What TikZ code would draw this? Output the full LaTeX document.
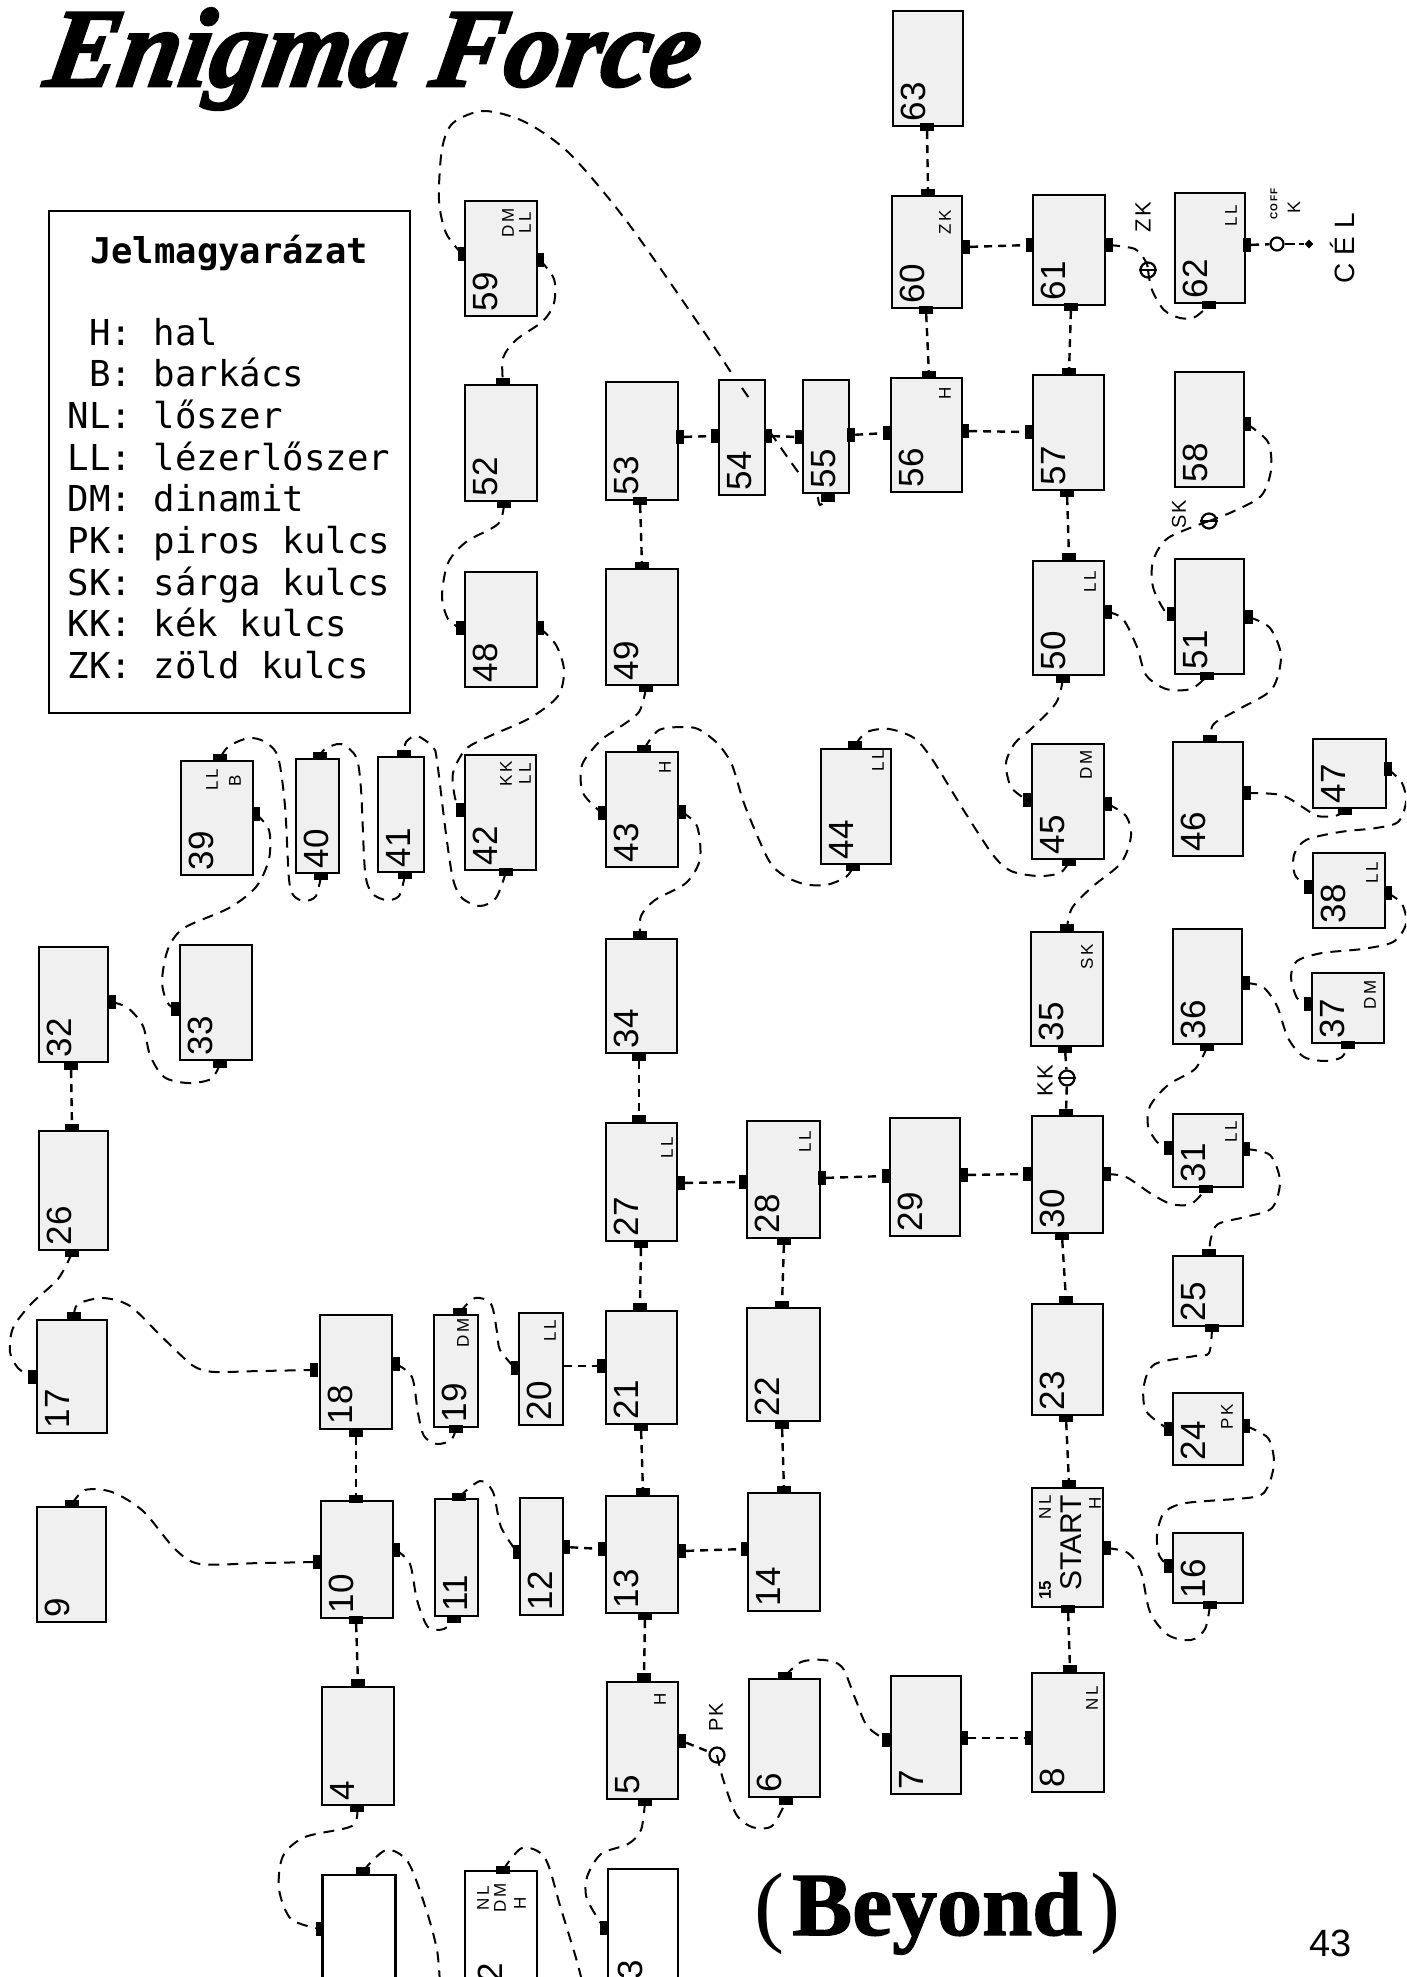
\documentclass[tikz,border=0pt]{standalone}
\usepackage{fontspec}
\usepackage{graphicx}
\usetikzlibrary{shapes.geometric}
\setmainfont{Liberation Sans}
\newfontfamily\legfont{DejaVu Sans Mono}
\newfontfamily\lblfont[LetterSpace=14]{Liberation Sans}
\newfontfamily\keyfont[LetterSpace=10]{Liberation Sans}
\newfontfamily\celfont[LetterSpace=28]{Liberation Sans}
\newfontfamily\beyfont[BoldFeatures={FakeBold=1.5}]{Liberation Serif}
\newfontfamily\titlefont[BoldItalicFeatures={FakeBold=2.5,FakeSlant=0.18}]{Liberation Serif}
\definecolor{roomgray}{HTML}{F0F0F0}
\tikzset{
  room/.style={draw=black,line width=2.6pt,fill=roomgray,rectangle,inner sep=0pt},
  openroom/.style={draw=black,line width=2.2pt,fill=white,rectangle,inner sep=0pt},
  vport/.style={fill=black,rectangle,inner sep=0pt,minimum width=8pt,minimum height=14pt},
  hport/.style={fill=black,rectangle,inner sep=0pt,minimum width=14pt,minimum height=8pt},
  num/.style={rotate=90,inner sep=0pt,font=\fontsize{35}{35}\selectfont},
  item/.style={rotate=90,inner sep=0pt,font=\lblfont\fontsize{17}{17}\selectfont},
  keylabel/.style={rotate=90,inner sep=0pt,font=\keyfont\fontsize{22}{22}\selectfont},
  wire/.style={draw=black,line width=2pt,dash pattern=on 11pt off 8pt},
  wirelink/.style={draw=black,line width=2.4pt,dash pattern=on 8pt off 6pt},
  keyring/.style={draw=black,circle,line width=2.2pt,minimum size=15pt,inner sep=0pt},
  keybar/.style={draw=black,line width=2pt},
  legline/.style={anchor=base west,inner sep=0pt,font=\legfont\fontsize{35.7}{35.7}\selectfont},
}
\begin{document}
\begin{tikzpicture}[x=1pt,y=-1pt]
\useasboundingbox (0,0) rectangle (1406,1977);
\clip (0,0) rectangle (1406,1977);
% title
\node[anchor=base west,inner sep=0pt] (title) at (42,86) {\scalebox{.975}[1]{\titlefont\fontsize{112}{112}\selectfont\bfseries\itshape Enigma Force}};
% legend
\node[draw=black,line width=2.6pt,rectangle,minimum width=361pt,minimum height=502pt,inner sep=0pt] (legend) at (229.5,462) {};
\node[legline,font=\legfont\bfseries\fontsize{35.5}{35.5}\selectfont] (legtitle) at (90,263) {Jelmagyarázat};
\foreach \i/\t in {0/{\phantom{N}H: hal},1/{\phantom{N}B: barkács},2/{NL: lőszer},3/{LL: lézerlőszer},4/{DM: dinamit},5/{PK: piros kulcs},6/{SK: sárga kulcs},7/{KK: kék kulcs},8/{ZK: zöld kulcs}}
  \node[legline] (leg\i) at (67.5,{345+41.7*\i}) {\t};
% rooms: name / x1 / y1 / x2 / y2
\foreach \n/\xa/\ya/\xb/\yb in {
 59/465/201/537/316, 52/465/385/537/501, 53/606/382/678/500, 48/465/572/537/687, 49/606/569/678/685,
 63/893/11/963/126, 60/892/196/962/308, 61/1033/195/1105/305, 62/1175/193/1245/303,
 54/719/380/765/495, 55/803/380/849/493, 56/891/378/962/492, 57/1033/375/1104/490, 58/1175/372/1244/487,
 50/1033/561/1104/675, 51/1175/559/1244/674,
 39/181/761/253/875, 40/296/759/339/873, 41/378/757/424/872, 42/465/755/536/870, 43/606/752/678/867,
 44/821/749/891/864, 45/1032/744/1104/859, 46/1173/742/1243/856, 47/1313/739/1386/808, 38/1313/853/1385/928,
 37/1312/973/1384/1043, 35/1031/932/1103/1046, 36/1173/929/1242/1044,
 32/39/947/108/1062, 33/180/945/252/1060, 34/606/939/677/1053, 26/39/1131/108/1250,
 27/606/1123/677/1241, 28/747/1121/820/1238, 29/890/1118/960/1236, 30/1032/1116/1103/1233, 31/1173/1114/1243/1187,
 17/37/1320/107/1433, 18/320/1315/392/1429, 19/434/1315/478/1427, 20/519/1313/563/1425, 21/606/1311/677/1424,
 22/747/1308/820/1421, 23/1032/1304/1103/1415, 25/1173/1256/1243/1326, 24/1173/1393/1243/1465,
 9/37/1507/106/1622, 10/321/1501/393/1618, 11/435/1499/478/1616, 12/520/1498/563/1615, 13/606/1496/678/1613,
 14/748/1493/820/1611, 16/1173/1533/1243/1603,
 4/322/1687/394/1805, 5/607/1682/678/1799, 6/749/1679/820/1797, 7/891/1676/961/1794, 8/1032/1673/1104/1792}
{
  \node[room,minimum width={\xb-\xa},minimum height={\yb-\ya}] (r\n) at ({(\xa+\xb)/2},{(\ya+\yb)/2}) {};
  \node[num,anchor=west] (n\n) at ([xshift=22pt,yshift=6pt]r\n.south west) {\n};
}
% start room
\node[room,minimum width=71pt,minimum height=119pt] (r15) at (1067.5,1547.5) {};
\node[rotate=90,inner sep=0pt,font=\fontsize{30}{30}\selectfont] (start) at (1071,1543) {START};
\node[item,font=\fontsize{17}{17}\selectfont\bfseries] (n15) at (1045,1590) {15};
% rooms running off the page
\node[openroom,minimum width=73pt,minimum height=140pt] (r1) at (359,1945) {};
\node[openroom,minimum width=72pt,minimum height=140pt] (r2) at (501,1941) {};
\node[openroom,minimum width=70pt,minimum height=140pt] (r3) at (643,1939) {};
\node[num,anchor=east] (n1) at (344,1977) {1};
\node[num,anchor=east] (n2) at (490,1963) {2};
\node[num,anchor=east] (n3) at (630,1960) {3};
% item labels
\foreach \n/\x/\y/\t in {
 a59/508/223/DM, b59/525/223/LL, a60/945/222/ZK, a62/1231/216/LL, a56/945/393/H, a50/1090/582/LL,
 a43/665/767/H, a39/212/780/LL, b39/235/781/B, a42/506/774/KK, b42/525/774/LL, a44/878/761/LL,
 a45/1086/765/DM, a38/1372/873/LL, a37/1370/995/DM, a35/1087/957/SK, a31/1231/1132/LL, a28/805/1142/LL,
 a27/667/1148/LL, a19/463/1333/DM, a20/550/1331/LL, a24/1227/1417/PK, a15/1045/1507/NL, b15/1095/1503/H,
 a8/1092/1698/NL, a5/660/1699/H, a2/483/1898/NL, b2/500/1898/DM, c2/520/1903/H}
  \node[item] (i\n) at (\x,\y) {\t};
% ports on left and right edges
\foreach \n/\x/\y in {
 p59w/462/254, p59e/540/260, p48w/460/628, p48e/540/628, p53e/680/437, p54w/715/436, p54e/768/436, p55w/799/437,
 p55e/851/435, p56w/887/433, p56e/965/431, p57w/1029/432, p60e/966/247, p61w/1030/245, p61e/1109/245, p62e/1247/245,
 p58e/1247/424, p50e/1108/612, p51w/1171/614, p51e/1249/617, p45w/1027/800, p45e/1108/804, p46e/1247/793, p47e/1388/769,
 p38w/1308/887, p38e/1388/893, p37w/1308/1004, p36e/1246/983, p31w/1168/1148, p31e/1246/1149, p30w/1027/1174, p30e/1107/1174,
 p29w/886/1176, p29e/964/1175, p28w/743/1182, p28e/822/1178, p27e/681/1183, p43w/602/813, p43e/682/812, p42w/460/810,
 p39e/256/814, p33w/175/1009, p32e/112/1002, p17w/32/1377, p18w/314/1370, p18e/396/1364, p20w/515/1368, p21w/601/1366,
 p10w/317/1562, p10e/396/1550, p12w/517/1552, p12e/566/1547, p13w/602/1549, p13e/682/1551, p14w/745/1549, p15e/1107/1548,
 p16w/1168/1566, p24w/1168/1429, p24e/1246/1426, p5e/682/1741, p7w/886/1740, p7e/964/1738, p8w/1029/1738,
 p1w/320/1929, p3w/604/1928}
  \node[vport] (\n) at (\x,\y) {};
\coordinate (p20e) at (564,1366);
% ports on top and bottom edges
\foreach \n/\x/\y in {
 p63s/927/127, p60n/928/193, p60s/926/310, p56n/929/375, p61s/1071/307, p57n/1069/372, p62s/1209/305, p57s/1067/493,
 p50n/1069/557, p53s/640/501, p49n/642/566, p52n/503/382, p52s/504/504, p49s/646/688, p50s/1063/679, p51s/1207/676,
 p55s/828/498, p46n/1210/739, p47s/1345/811, p42s/506/872, p41n/404/754, p41s/405/875, p40n/320/756, p40s/321/876,
 p39n/220/758, p33s/220/1064, p32s/71/1066, p26n/72/1128, p26s/72/1253, p17n/74/1316, p19s/456/1429, p19n/460/1312,
 p43n/644/749, p34n/640/935, p44s/853/867, p44n/855/745, p45s/1069/862, p35n/1067/928, p37s/1348/1045, p36s/1207/1047,
 p31s/1206/1189, p25n/1209/1253, p25s/1212/1328, p30n/1066/1113, p35s/1065/1049, p30s/1062/1236, p23n/1066/1300,
 p28s/784/1241, p22n/782/1305, p27s/641/1244, p21n/640/1307, p34s/639/1057, p27n/639/1119, p23s/1066/1418, p15n/1069/1484,
 p15s/1068/1609, p8n/1070/1669, p22s/782/1425, p14n/784/1490, p21s/641/1427, p13n/643/1492, p13s/645/1616, p5n/644/1677,
 p18s/356/1433, p10n/356/1499, p10s/356/1620, p4n/358/1683, p9n/72/1504, p11s/454/1619, p11n/459/1497, p4s/357/1808,
 p1n/363/1871, p2n/503/1870, p5s/645/1802, p6s/786/1801, p6n/785/1676, p16s/1210/1605}
  \node[hport] (\n) at (\x,\y) {};
% straight links
\foreach \a/\b in {p63s/p60n, p60s/p56n, p60e/p61w, p61s/p57n, p53e/p54w, p54e/p55w, p55e/p56w, p56e/p57w, p57s/p50n, p53s/p49n,
 p32s/p26n, p20e/p21w, p27e/p28w, p28e/p29w, p29e/p30w, p30s/p23n, p28s/p22n, p27s/p21n, p34s/p27n, p23s/p15n, p15s/p8n,
 p22s/p14n, p13e/p14w, p12e/p13w, p21s/p13n, p13s/p5n, p18s/p10n, p10s/p4n, p7e/p8w}
  \draw[wirelink] (\a) -- (\b);
% keys
\node[keyring] (kzk) at (1148,270) {};
\node[keyring,minimum size=13pt] (kcoff) at (1277,244) {};
\node[keyring] (ksk) at (1209,521) {};
\node[keyring] (kkk) at (1067,1078) {};
\node[keyring] (kpk) at (717,1755) {};
\draw[keybar] (kzk.west) -- (kzk.east);
\draw[keybar] (ksk.west) -- (ksk.east);
\draw[keybar] (kkk.west) -- (kkk.east);
\node[diamond,fill=black,inner sep=0pt,minimum size=9pt] (goal) at (1309,244) {};
\node[keylabel] (lzk) at (1143,217) {ZK};
\node[keylabel,font=\fontsize{18}{18}\selectfont] (lk) at (1294,207) {K};
\node[rotate=90,inner sep=0pt,font=\lblfont\bfseries\fontsize{10}{10}\selectfont] (lcoff) at (1274,204) {COFF};
\node[rotate=90,inner sep=0pt,font=\celfont\fontsize{28}{28}\selectfont] (lcel) at (1342,248) {CÉL};
\node[keylabel,font=\keyfont\fontsize{20}{20}\selectfont] (lsk) at (1179,514) {SK};
\node[keylabel] (lkk) at (1045,1081) {KK};
\node[keylabel,font=\keyfont\fontsize{20}{20}\selectfont] (lpk) at (716,1717) {PK};
% key links
\draw[wirelink] (p62e) -- (kcoff);
\draw[wirelink,solid] (kcoff) -- (1295,244);
\draw[wirelink] (kcoff) -- (goal);
\draw[wirelink] (p35s) -- (kkk);
\draw[wirelink] (kkk) -- (p30n);
\draw[wirelink] (p5e) -- (kpk);
% curved links
\draw[wire] plot[smooth] coordinates {(p61e) (1135,249) (1146,262) (kzk)};
\draw[wire] plot[smooth] coordinates {(kzk) (1152,290) (1164,310) (1180,318) (1195,317) (p62s)};
\draw[wire] plot[smooth] coordinates {(p59w) (446,233) (439,200) (442,149) (453,123) (484,111) (525,122) (570,154) (628,223) (700,326) (734,377)};
\draw[wire] (742,388) -- (749,398);
\draw[wire] plot[smooth] coordinates {(770,432) (788,458) (801,476)};
\draw[wire] plot[smooth] coordinates {(818,497) (820,505) (p55s)};
\draw[wire] plot[smooth] coordinates {(p59e) (554,279) (554,303) (543,321) (516,340) (503,358) (p52n)};
\draw[wire] plot[smooth] coordinates {(p52s) (498,524) (466,542) (448,563) (442,596) (448,619) (p48w)};
\draw[wire] plot[smooth] coordinates {(p48e) (556,645) (564,670) (558,696) (530,718) (490,736) (466,749) (453,773) (455,798) (p42w)};
\draw[wire] plot[smooth] coordinates {(p42s) (496,898) (480,906) (462,898) (453,879) (446,834) (437,761) (433,747) (417,736) (406,742) (p41n)};
\draw[wire] plot[smooth] coordinates {(p41s) (399,896) (386,900) (372,893) (365,871) (361,789) (356,757) (341,744) (325,749) (p40n)};
\draw[wire] plot[smooth] coordinates {(p40s) (316,896) (305,901) (294,896) (289,879) (285,806) (278,757) (265,742) (249,738) (229,746) (p39n)};
\draw[wire] plot[smooth] coordinates {(p39e) (269,830) (269,859) (256,887) (229,908) (184,928) (168,949) (162,981) (167,1002) (p33w)};
\draw[wire] plot[smooth] coordinates {(p33s) (211,1079) (188,1083) (164,1077) (150,1055) (143,1026) (128,1008) (p32e)};
\draw[wire] plot[smooth] coordinates {(p26s) (58,1279) (31,1304) (13,1328) (10,1352) (18,1368) (p17w)};
\draw[wire] plot[smooth] coordinates {(p17n) (78,1304) (103,1298) (130,1306) (161,1336) (186,1360) (197,1368) (215,1372) (260,1371) (p18w)};
\draw[wire] plot[smooth] coordinates {(p18e) (412,1377) (418,1413) (424,1436) (437,1444) (451,1440) (p19s)};
\draw[wire] plot[smooth] coordinates {(p19n) (475,1298) (491,1304) (497,1332) (500,1350) (p20w)};
\draw[wire] plot[smooth] coordinates {(p43e) (697,826) (700,859) (686,883) (655,900) (641,916) (p34n)};
\draw[wire] plot[smooth] coordinates {(p49s) (639,712) (617,729) (600,741) (582,765) (583,793) (p43w)};
\draw[wire] plot[smooth] coordinates {(p43n) (659,730) (686,727) (700,730) (718,744) (732,765) (745,806) (768,859) (783,875) (804,884) (826,885) (846,877) (p44s)};
\draw[wire] plot[smooth] coordinates {(p44n) (867,732) (889,729) (914,738) (932,759) (966,814) (993,855) (1011,871) (1038,876) (1060,873) (p45s)};
\draw[wire] plot[smooth] coordinates {(p50s) (1056,703) (1031,729) (1015,743) (1006,763) (1011,787) (p45w)};
\draw[wire] plot[smooth] coordinates {(p45e) (1126,816) (1131,836) (1121,863) (1092,887) (1072,908) (p35n)};
\draw[wire] plot[smooth] coordinates {(p50e) (1123,619) (1137,647) (1146,675) (1166,689) (1191,689) (p51s)};
\draw[wire] plot[smooth] coordinates {(p58e) (1268,442) (1271,470) (1261,496) (1232,512) (ksk)};
\draw[wire] plot[smooth] coordinates {(ksk) (1168,538) (1153,561) (1153,587) (1164,610) (p51w)};
\draw[wire] plot[smooth] coordinates {(p51e) (1270,628) (1281,656) (1272,689) (1241,708) (1216,722) (1211,730) (p46n)};
\draw[wire] plot[smooth] coordinates {(p46e) (1281,795) (1304,808) (1317,816) (1335,816) (p47s)};
\draw[wire] plot[smooth] coordinates {(p47e) (1402,783) (1406,802) (1398,822) (1376,828) (1340,832) (1306,840) (1294,855) (1295,875) (p38w)};
\draw[wire] plot[smooth] coordinates {(p38e) (1402,904) (1406,924) (1393,942) (1362,949) (1322,953) (1297,961) (1291,977) (1297,998) (p37w)};
\draw[wire] plot[smooth] coordinates {(p36e) (1263,987) (1277,1006) (1288,1038) (1304,1057) (1326,1061) (1342,1057) (p37s)};
\draw[wire] plot[smooth] coordinates {(p36s) (1195,1069) (1168,1085) (1150,1106) (1148,1126) (1157,1142) (p31w)};
\draw[wire] plot[smooth] coordinates {(p30e) (1126,1177) (1150,1193) (1171,1204) (1191,1204) (p31s)};
\draw[wire] plot[smooth] coordinates {(p31e) (1270,1155) (1280,1181) (1272,1208) (1245,1217) (1218,1224) (1211,1238) (p25n)};
\draw[wire] plot[smooth] coordinates {(p25s) (1209,1353) (1195,1356) (1155,1364) (1144,1385) (1146,1411) (p24w)};
\draw[wire] plot[smooth] coordinates {(p24e) (1268,1438) (1274,1462) (1268,1486) (1254,1497) (1186,1503) (1164,1513) (1157,1535) (1159,1555) (p16w)};
\draw[wire] plot[smooth] coordinates {(p15e) (1128,1553) (1141,1572) (1150,1612) (1168,1635) (1191,1640) (1205,1629) (p16s)};
\draw[wire] plot[smooth] coordinates {(p9n) (85,1490) (112,1492) (143,1511) (175,1549) (200,1564) (260,1563) (p10w)};
\draw[wire] plot[smooth] coordinates {(p10e) (410,1564) (417,1600) (428,1627) (444,1629) (p11s)};
\draw[wire] plot[smooth] coordinates {(p11n) (480,1481) (493,1492) (501,1527) (p12w)};
\draw[wire] plot[smooth] coordinates {(p4s) (352,1826) (305,1837) (283,1856) (279,1889) (291,1919) (p1w)};
\draw[wire] plot[smooth] coordinates {(p1n) (386,1850) (408,1862) (426,1909) (437,1950) (440,1985)};
\draw[wire] plot[smooth] coordinates {(p2n) (522,1848) (545,1858) (561,1909) (576,1958) (583,1985)};
\draw[wire] plot[smooth] coordinates {(p5s) (641,1830) (628,1844) (601,1854) (587,1877) (587,1899) (p3w)};
\draw[wire] plot[smooth] coordinates {(kpk) (723,1779) (736,1814) (752,1827) (772,1826) (p6s)};
\draw[wire] plot[smooth] coordinates {(p6n) (801,1662) (824,1660) (842,1667) (855,1698) (867,1726) (p7w)};
% bottom texts
\node[anchor=base west,inner sep=0pt] (beyond) at (754,1935) {{\beyfont\fontsize{90}{90}\selectfont(\hspace{8pt}\bfseries Beyond\mdseries\hspace{8pt})}};
\node[anchor=base west,inner sep=0pt,font=\fontsize{38}{38}\selectfont] (page) at (1309,1956) {43};
\end{tikzpicture}
\end{document}
